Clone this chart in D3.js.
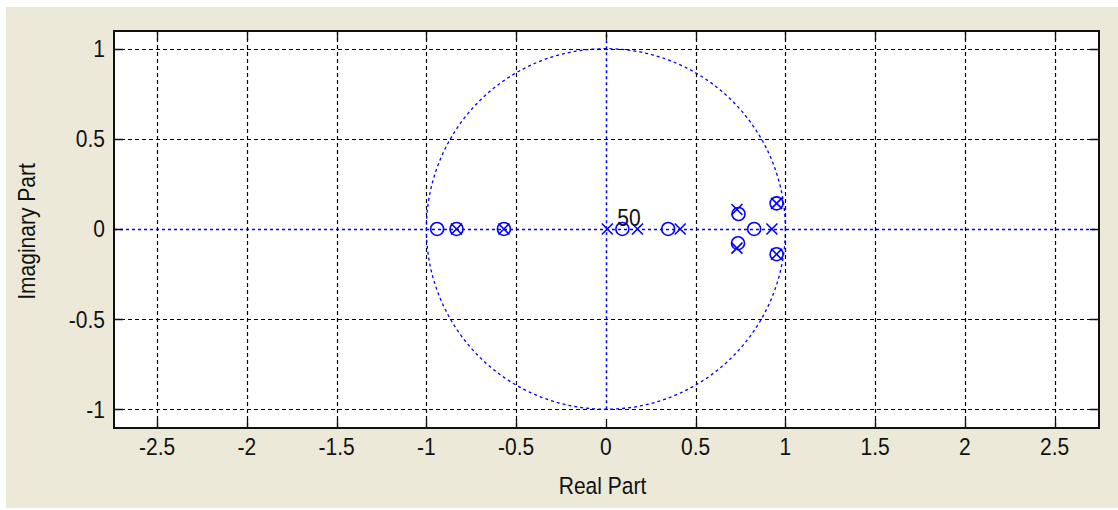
<!DOCTYPE html>
<html><head><meta charset="utf-8">
<script src="https://cdn.jsdelivr.net/npm/d3@7"></script>
<style>html,body{margin:0;padding:0;background:#fff;}svg{display:block;}</style>
</head><body>
<script>
// ---- data ----
const xTicks = [-2.5, -2, -1.5, -1, -0.5, 0, 0.5, 1, 1.5, 2, 2.5];
const yTicks = [-1, -0.5, 0, 0.5, 1];
const xTickLabels = ["-2.5", "-2", "-1.5", "-1", "-0.5", "0", "0.5", "1", "1.5", "2", "2.5"];
const yTickLabels = ["-1", "-0.5", "0", "0.5", "1"];
const zerosRe = [-0.940, -0.832, -0.568, 0.092, 0.347, 0.826, 0.739, 0.736, 0.951, 0.951];
const zerosIm = [0, 0, 0, 0, 0, 0, 0.083, -0.079, 0.142, -0.140];
const polesRe = [-0.832, -0.568, 0.008, 0.176, 0.414, 0.925, 0.730, 0.730, 0.951, 0.951];
const polesIm = [0, 0, 0, 0, 0, 0, 0.108, -0.106, 0.142, -0.140];
const multLabel = "50";
const multRe = 0.064, multIm = 0.02;
const xLabel = "Real Part", yLabel = "Imaginary Part";

// ---- layout ----
const W = 1118, H = 510;
const L = 114, R = 1099, T = 31, B = 428;
const x = d3.scaleLinear().domain([-2.740, 2.747]).range([L, R]);
const y = d3.scaleLinear().domain([-1.104, 1.098]).range([B, T]);
const blue = "#0000ff";
const font = "'Liberation Sans', Arial, sans-serif";
const fs = 21, sy = 1.17;

const svg = d3.select("body").append("svg").attr("width", W).attr("height", H);
svg.append("rect").attr("width", W).attr("height", H).attr("fill", "#fff");
svg.append("rect").attr("x", 6).attr("y", 7).attr("width", W - 6).attr("height", H - 9).attr("fill", "#ece9d8");
svg.append("rect").attr("x", L).attr("y", T).attr("width", R - L).attr("height", B - T).attr("fill", "#fff");

// grid
const grid = svg.append("g").attr("stroke", "#000").attr("stroke-width", 1.2).attr("stroke-dasharray", "4,3").attr("fill", "none");
grid.selectAll(".gx").data(xTicks.filter(d => d !== 0)).join("line")
  .attr("x1", d => Math.round(x(d)) + 0.5).attr("x2", d => Math.round(x(d)) + 0.5).attr("y1", T).attr("y2", B);
grid.selectAll(".gy").data(yTicks.filter(d => d !== 0)).join("line")
  .attr("y1", d => Math.round(y(d)) + 0.5).attr("y2", d => Math.round(y(d)) + 0.5).attr("x1", L).attr("x2", R);

// blue axes lines and unit circle
const bl = svg.append("g").attr("stroke", blue).attr("stroke-width", 1.5).attr("fill", "none").attr("stroke-dasharray", "3,3");
bl.append("line").attr("x1", L).attr("x2", R).attr("y1", Math.round(y(0)) + 0.5).attr("y2", Math.round(y(0)) + 0.5);
bl.append("line").attr("x1", Math.round(x(0)) + 0.5).attr("x2", Math.round(x(0)) + 0.5).attr("y1", y(-1)).attr("y2", y(1.098));
const circ = d3.range(0, 361, 1).map(a => [Math.cos(a * Math.PI / 180), Math.sin(a * Math.PI / 180)]);
bl.append("path").attr("stroke-dasharray", "3,3").attr("stroke-width", 1.3)
  .attr("d", d3.line().x(d => x(d[0])).y(d => y(d[1]))(circ));

// markers
const mk = svg.append("g").attr("stroke", blue).attr("stroke-width", 1.6).attr("fill", "none");
mk.selectAll("circle").data(zerosRe.map((d, i) => [d, zerosIm[i]])).join("circle")
  .attr("cx", d => x(d[0])).attr("cy", d => y(d[1])).attr("r", 6.5);
const s = 5.5;
mk.selectAll("path").data(polesRe.map((d, i) => [d, polesIm[i]])).join("path")
  .attr("d", d => {
    const cx = x(d[0]), cy = y(d[1]);
    return `M${cx - s},${cy - s}L${cx + s},${cy + s}M${cx - s},${cy + s}L${cx + s},${cy - s}`;
  });

// multiplicity label
svg.append("text").attr("transform", `translate(${x(multRe)},${y(multIm) + 0.5}) scale(1,${sy})`)
  .attr("font-family", font).attr("font-size", fs).attr("fill", "#111").text(multLabel);

// frame and ticks
const ax = svg.append("g").attr("stroke", "#111").attr("fill", "none");
ax.append("rect").attr("x", L).attr("y", T).attr("width", R - L).attr("height", B - T).attr("stroke-width", 2);
const tl = 9;
ax.selectAll(".tx").data(xTicks).join("path").attr("stroke-width", 1.3)
  .attr("d", d => { const px = Math.round(x(d)) + 0.5; return `M${px},${T}V${T + tl}M${px},${B}V${B - tl}`; });
ax.selectAll(".ty").data(yTicks).join("path").attr("stroke-width", 1.3)
  .attr("d", d => { const py = Math.round(y(d)) + 0.5; return `M${L},${py}H${L + tl}M${R},${py}H${R - tl}`; });

// tick labels
const tg = svg.append("g").attr("font-family", font).attr("font-size", fs).attr("fill", "#111");
tg.selectAll(".lx").data(xTicks).join("text")
  .attr("transform", d => `translate(${x(d)},455) scale(1,${sy})`).attr("text-anchor", "middle")
  .text((d, i) => xTickLabels[i]);
tg.selectAll(".ly").data(yTicks).join("text")
  .attr("transform", d => `translate(105,${y(d) + 8.5}) scale(1,${sy})`).attr("text-anchor", "end")
  .text((d, i) => yTickLabels[i]);

// axis labels
tg.append("text").attr("transform", `translate(${(L + R) / 2 - 4},494) scale(1,${sy})`).attr("text-anchor", "middle").text(xLabel);
tg.append("text").attr("transform", `translate(35,${(T + B) / 2 + 2}) rotate(-90) scale(1,${sy})`).attr("text-anchor", "middle").text(yLabel);
</script>
</body></html>
